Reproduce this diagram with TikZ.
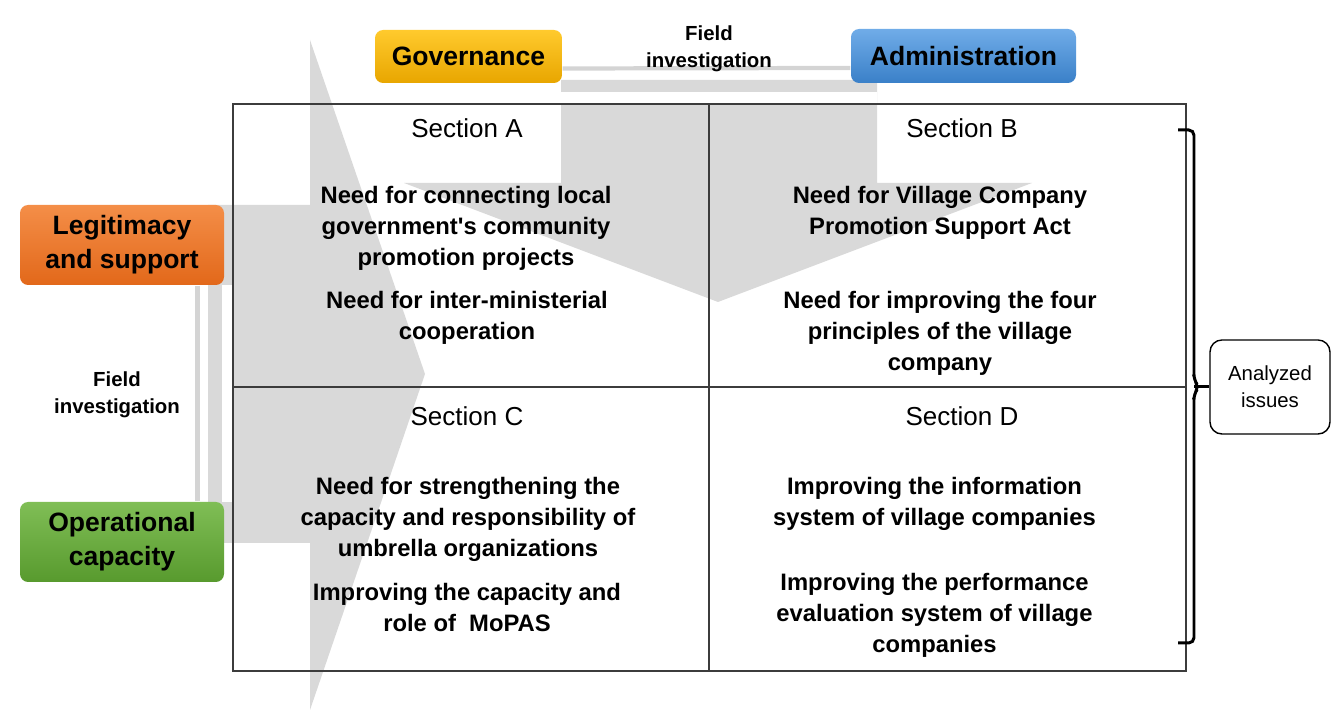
\documentclass[tikz,border=0pt]{standalone}
\usepackage{fontspec}
\setmainfont{Liberation Sans}
\usepackage{xcolor}
\usepackage{tikz}
\usetikzlibrary{positioning,calc}

\definecolor{arrowgray}{RGB}{217,217,217}
\definecolor{linegray}{RGB}{212,212,212}
\definecolor{gridline}{RGB}{60,60,60}
\definecolor{govtop}{RGB}{255,202,45}
\definecolor{govbot}{RGB}{232,166,0}
\definecolor{admtop}{RGB}{112,172,232}
\definecolor{admbot}{RGB}{58,128,200}
\definecolor{legtop}{RGB}{244,142,72}
\definecolor{legbot}{RGB}{226,104,26}
\definecolor{optop}{RGB}{128,190,86}
\definecolor{opbot}{RGB}{88,154,46}

\begin{document}
\begin{tikzpicture}[
    keybox/.style={rounded corners=2.3pt, inner sep=0pt, align=center,
        font=\fontsize{7.55}{9.67}\selectfont\bfseries},
    need/.style={align=center, font=\fontsize{6.77}{8.82}\selectfont\bfseries},
    sec/.style={font=\fontsize{7.4}{8.9}\selectfont},
    field/.style={align=center, font=\fontsize{5.8}{7.68}\selectfont\bfseries},
    fieldline/.style={draw=linegray, line width=1.2pt},
    grid/.style={draw=gridline, line width=0.55pt},
    brace/.style={draw=black, line width=0.85pt}
]
    \useasboundingbox (0,0) rectangle (13.41,-7.23);

    % Block arrows behind the table
    \fill[arrowgray] (5.61,-0.80) -- (8.77,-0.80) -- (8.77,-1.83) -- (10.32,-1.83)
        -- (7.18,-3.02) -- (4.04,-1.83) -- (5.61,-1.83) -- cycle;
    \fill[arrowgray] (2.08,-2.05) -- (3.10,-2.05) -- (3.10,-0.40) -- (4.25,-3.74)
        -- (3.10,-7.10) -- (3.10,-5.43) -- (2.08,-5.43) -- cycle;
    \fill[white] (5.61,-0.92) rectangle (8.77,-1.04);
    \fill[white] (2.22,-2.85) rectangle (2.33,-5.02);

    % Table
    \draw[grid] (2.33,-1.04) rectangle (11.86,-6.71);
    \draw[grid] (7.09,-1.04) -- (7.09,-6.71);
    \draw[grid] (2.33,-3.87) -- (11.86,-3.87);

    % Section titles
    \node[sec] (secA) at (4.67,-1.285) {Section A};
    \node[sec] (secB) at (9.62,-1.285) {Section B};
    \node[sec] (secC) at (4.67,-4.165) {Section C};
    \node[sec] (secD) at (9.62,-4.165) {Section D};

    % Issues
    \node[need] (needA1) at (4.66,-2.285) {Need for connecting local\\government\textquotesingle s community\\promotion projects};
    \node[need] (needA2) at (4.67,-3.18) {Need for inter-ministerial\\cooperation};
    \node[need] (needB1) at (9.40,-2.13) {Need for Village Company\\Promotion Support Act};
    \node[need] (needB2) at (9.40,-3.335) {Need for improving the four\\principles of the village\\company};
    \node[need] (needC1) at (4.68,-5.19) {Need for strengthening the\\capacity and responsibility of\\umbrella organizations};
    \node[need] (needC2) at (4.67,-6.08) {Improving the capacity and\\role of\ \ MoPAS};
    \node[need] (needD1) at (9.345,-5.035) {Improving the information\\system of village companies};
    \node[need] (needD2) at (9.345,-6.15) {Improving the performance\\evaluation system of village\\companies};

    % Perspectives
    \node[keybox, minimum width=1.87cm, minimum height=0.53cm, top color=govtop, bottom color=govbot]
        (gov) at (4.685,-0.565) {Governance};
    \node[keybox, minimum width=2.25cm, minimum height=0.54cm, top color=admtop, bottom color=admbot]
        (adm) at (9.635,-0.56) {Administration};
    \node[keybox, minimum width=2.04cm, minimum height=0.80cm, top color=legtop, bottom color=legbot]
        (leg) at (1.22,-2.45) {Legitimacy\\and support};
    \node[keybox, minimum width=2.04cm, minimum height=0.80cm, top color=optop, bottom color=opbot]
        (oper) at (1.22,-5.42) {Operational\\capacity};

    % Field investigation links
    \draw[fieldline] ([yshift=-0.12cm]gov.east) -- ([yshift=-0.12cm]adm.west);
    \draw[fieldline] ([xshift=0.755cm]leg.south) -- ([xshift=0.755cm]oper.north);
    \node[field] (fieldtop) at (7.09,-0.485) {Field\\investigation};
    \node[field] (fieldleft) at (1.17,-3.945) {Field\\investigation};

    % Analyzed issues
    \node[draw=black, line width=0.4pt, rounded corners=3.4pt, minimum width=1.20cm,
        minimum height=0.94cm, inner sep=0pt, align=center,
        font=\fontsize{5.8}{7.68}\selectfont] (iss) at (12.70,-3.87) {Analyzed\\issues};
    \coordinate (btop) at (11.78,-1.30);
    \coordinate (bbot) at (11.78,-6.43);
    \coordinate (bmid) at (11.94,-3.87);
    \draw[brace, rounded corners=1.5pt] (btop) -- (11.94,-1.30) -- (11.94,-3.80)
        -- (11.99,-3.87) -- (11.94,-3.94) -- (11.94,-6.43) -- (bbot);
    \draw[brace] (bmid) -- (iss.west);
\end{tikzpicture}
\end{document}
